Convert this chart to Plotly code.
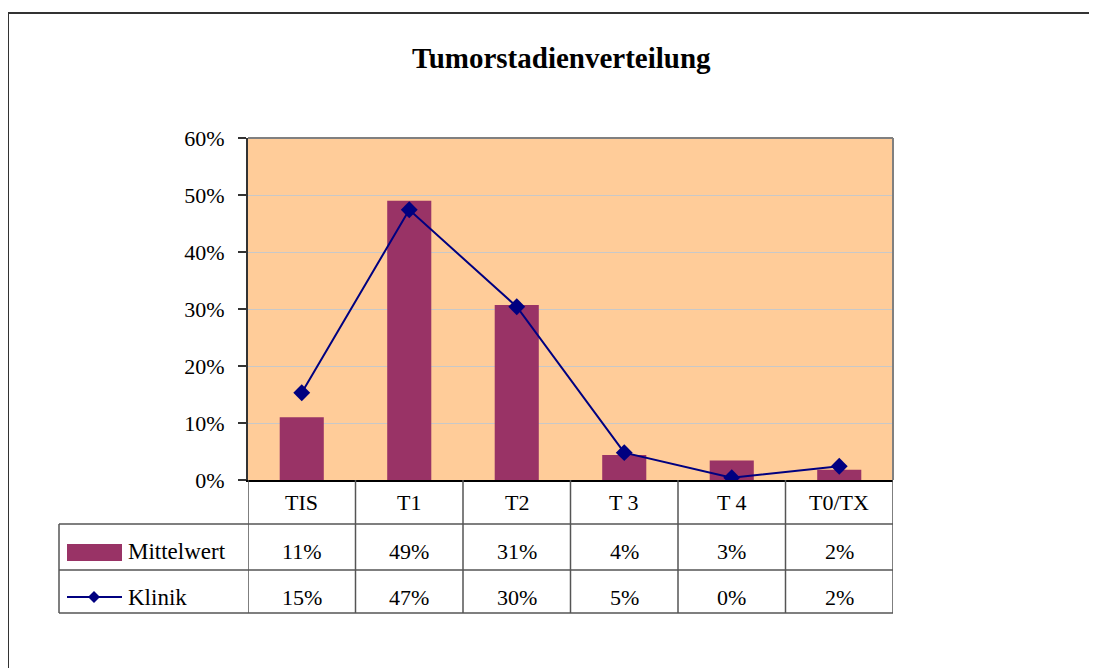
import plotly.graph_objects as go

categories = ["TIS", "T1", "T2", "T 3", "T 4", "T0/TX"]
mittelwert = [0.110, 0.490, 0.307, 0.044, 0.034, 0.018]
klinik = [0.153, 0.474, 0.304, 0.048, 0.004, 0.024]
series_names = ["Mittelwert", "Klinik"]

OFF = 8                            # page body margin
W, H = 1097 - OFF, 668 - OFF
L, R, T, B = 248, 893, 138, 480   # plot area in pixels (as seen on the page)
FONT = "Liberation Serif, Times New Roman, serif"
BAR = "#993366"
LINE = "#000080"
GRID = "#555555"


def px(x):
    return (x - L) / (R - L)


def py(y):
    return (B - y) / (B - T)


fig = go.Figure()

fig.add_trace(go.Bar(x=categories, y=mittelwert, name=series_names[0],
                     marker=dict(color=BAR, line_width=0), width=0.41))
fig.add_trace(go.Scatter(x=categories, y=klinik, name=series_names[1],
                         mode="lines+markers",
                         line=dict(color=LINE, width=2),
                         marker=dict(symbol="diamond", size=13, color=LINE)))

shapes = []
# outer chart frame (left + top)
shapes.append(dict(type="line", xref="paper", yref="paper",
                   x0=px(8), x1=px(8), y0=py(13), y1=py(700),
                   line=dict(color="#333333", width=2)))
shapes.append(dict(type="line", xref="paper", yref="paper",
                   x0=px(8), x1=px(1120), y0=py(13), y1=py(13),
                   line=dict(color="#333333", width=2)))
# top/right plot border (grey)
shapes.append(dict(type="line", xref="paper", yref="paper",
                   x0=0, x1=1, y0=1, y1=1, line=dict(color="#808080", width=2)))
shapes.append(dict(type="line", xref="paper", yref="paper",
                   x0=1, x1=1, y0=0, y1=1, line=dict(color="#808080", width=2)))

# data table grid
row_y = [524, 570, 613]
for y in row_y:
    shapes.append(dict(type="line", xref="paper", yref="paper",
                       x0=px(59), x1=1, y0=py(y), y1=py(y),
                       line=dict(color=GRID, width=1.5)))
shapes.append(dict(type="line", xref="paper", yref="paper",
                   x0=px(59), x1=px(59), y0=py(524), y1=py(613),
                   line=dict(color=GRID, width=1.5)))
for i in range(len(categories) + 1):
    shapes.append(dict(type="line", xref="x", yref="paper",
                       x0=i - 0.5, x1=i - 0.5, y0=0, y1=py(613),
                       line=dict(color=GRID, width=1.5)))

# legend keys inside the table
shapes.append(dict(type="rect", xref="paper", yref="paper",
                   x0=px(67), x1=px(122), y0=py(561), y1=py(544),
                   fillcolor=BAR, line_width=0))
shapes.append(dict(type="line", xref="paper", yref="paper",
                   x0=px(67), x1=px(122), y0=py(597), y1=py(597),
                   line=dict(color=LINE, width=2)))
cx, cy, d = 94, 597, 6
shapes.append(dict(type="path", xref="paper", yref="paper",
                   path=f"M {px(cx-d)},{py(cy)} L {px(cx)},{py(cy-d)} "
                        f"L {px(cx+d)},{py(cy)} L {px(cx)},{py(cy+d)} Z",
                   fillcolor=LINE, line_width=0))

TXT = dict(family=FONT, size=22, color="black")
annotations = []
annotations.append(dict(text="<b>Tumorstadienverteilung</b>", xref="paper", yref="paper",
                        x=px(561), y=py(58), showarrow=False, yanchor="middle",
                        font=dict(family=FONT, size=29, color="black")))
for i, c in enumerate(categories):
    annotations.append(dict(text=c, xref="x", yref="paper", x=i, y=py(502),
                            showarrow=False, yanchor="middle", font=TXT))
    annotations.append(dict(text=f"{mittelwert[i]:.0%}", xref="x", yref="paper",
                            x=i, y=py(551), showarrow=False, yanchor="middle", font=TXT))
    annotations.append(dict(text=f"{klinik[i]:.0%}", xref="x", yref="paper",
                            x=i, y=py(597), showarrow=False, yanchor="middle", font=TXT))
for name, y in zip(series_names, [551, 597]):
    annotations.append(dict(text=name, xref="paper", yref="paper", x=px(126), y=py(y),
                            xanchor="left", yanchor="middle", showarrow=False,
                            font=dict(family=FONT, size=23, color="black")))

fig.update_layout(
    width=W, height=H,
    margin=dict(l=L - OFF, r=W - R + OFF, t=T - OFF, b=H - B + OFF),
    paper_bgcolor="white",
    plot_bgcolor="#FFCC99",
    showlegend=False,
    shapes=shapes,
    annotations=annotations,
    font=TXT,
    xaxis=dict(range=[-0.5, 5.5], showticklabels=False, showgrid=False,
               showline=True, linecolor="black", linewidth=2, ticks="",
               zeroline=False),
    yaxis=dict(range=[0, 0.6], dtick=0.1, tickformat=".0%",
               showgrid=True, gridcolor="#C8C8C8", gridwidth=1,
               showline=True, linecolor="#333333", linewidth=2,
               ticks="outside", ticklen=8, tickcolor="#333333", tickwidth=2,
               ticklabelstandoff=9, zeroline=False,
               tickfont=dict(family=FONT, size=22, color="black")),
)

fig.write_html("out.html")
